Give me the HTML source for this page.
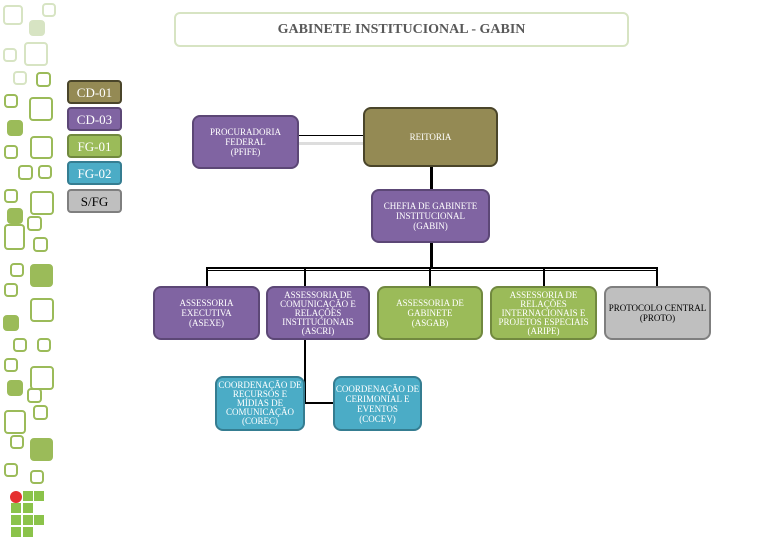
<!DOCTYPE html><html><head><style>
body{margin:0;width:765px;height:542px;background:#fff;position:relative;overflow:hidden;font-family:"Liberation Serif",serif}
.b{position:absolute;box-sizing:border-box;border-radius:8px;display:flex;align-items:center;justify-content:center;text-align:center;color:#fff;font-size:9px;line-height:10px}
.p{background:#8064a2;border:2px solid #5c4776}
.o{background:#948a54;border:2px solid #4a452a}
.g{background:#9bbb59;border:2px solid #71893f}
.t{background:#4bacc6;border:2px solid #357d91}
.s{background:#bfbfbf;border:2px solid #7f7f7f;color:#000}
.l{position:absolute;background:#000}
.q{position:absolute;box-sizing:border-box;border:2px solid #9bbb59;border-radius:4px}
.lt{border-color:#d7e4c3}.f{background:#9bbb59}.fl{background:#d7e4c3;border-color:#d7e4c3}
.lg{font-size:13px;line-height:13px;border-radius:4px}
</style></head><body>
<div class="q lt" style="left:3px;top:5px;width:20px;height:20px"></div>
<div class="q lt" style="left:42px;top:3px;width:14px;height:14px"></div>
<div class="q fl" style="left:29px;top:20px;width:16px;height:16px"></div>
<div class="q lt" style="left:3px;top:48px;width:14px;height:14px"></div>
<div class="q lt" style="left:24px;top:42px;width:24px;height:24px"></div>
<div class="q lt" style="left:13px;top:71px;width:14px;height:14px"></div>
<div class="q" style="left:36px;top:72px;width:15px;height:15px"></div>
<div class="q" style="left:4px;top:94px;width:14px;height:14px"></div>
<div class="q" style="left:29px;top:97px;width:24px;height:24px"></div>
<div class="q f" style="left:7px;top:120px;width:16px;height:16px"></div>
<div class="q" style="left:4px;top:145px;width:14px;height:14px"></div>
<div class="q" style="left:30px;top:136px;width:23px;height:23px"></div>
<div class="q" style="left:18px;top:165px;width:15px;height:15px"></div>
<div class="q" style="left:38px;top:165px;width:14px;height:14px"></div>
<div class="q" style="left:4px;top:189px;width:14px;height:14px"></div>
<div class="q" style="left:30px;top:191px;width:24px;height:24px"></div>
<div class="q f" style="left:7px;top:208px;width:16px;height:16px"></div>
<div class="q" style="left:27px;top:216px;width:15px;height:15px"></div>
<div class="q" style="left:4px;top:224px;width:21px;height:26px"></div>
<div class="q" style="left:33px;top:237px;width:15px;height:15px"></div>
<div class="q" style="left:10px;top:263px;width:14px;height:14px"></div>
<div class="q f" style="left:30px;top:264px;width:23px;height:23px"></div>
<div class="q" style="left:4px;top:283px;width:14px;height:14px"></div>
<div class="q" style="left:30px;top:298px;width:24px;height:24px"></div>
<div class="q f" style="left:3px;top:315px;width:16px;height:16px"></div>
<div class="q" style="left:13px;top:338px;width:14px;height:14px"></div>
<div class="q" style="left:37px;top:338px;width:14px;height:14px"></div>
<div class="q" style="left:4px;top:358px;width:14px;height:14px"></div>
<div class="q" style="left:30px;top:366px;width:24px;height:24px"></div>
<div class="q f" style="left:7px;top:380px;width:16px;height:16px"></div>
<div class="q" style="left:27px;top:388px;width:15px;height:15px"></div>
<div class="q" style="left:4px;top:410px;width:22px;height:24px"></div>
<div class="q" style="left:33px;top:405px;width:15px;height:15px"></div>
<div class="q" style="left:10px;top:435px;width:14px;height:14px"></div>
<div class="q f" style="left:30px;top:438px;width:23px;height:23px"></div>
<div class="q" style="left:4px;top:463px;width:14px;height:14px"></div>
<div class="q" style="left:30px;top:470px;width:14px;height:14px"></div>
<div style="position:absolute;left:10px;top:491px;width:12px;height:12px;border-radius:50%;background:#e53030"></div>
<div style="position:absolute;left:23px;top:491px;width:10px;height:10px;background:#8bc34a"></div>
<div style="position:absolute;left:34px;top:491px;width:10px;height:10px;background:#8bc34a"></div>
<div style="position:absolute;left:11px;top:503px;width:10px;height:10px;background:#8bc34a"></div>
<div style="position:absolute;left:23px;top:503px;width:10px;height:10px;background:#8bc34a"></div>
<div style="position:absolute;left:11px;top:515px;width:10px;height:10px;background:#8bc34a"></div>
<div style="position:absolute;left:23px;top:515px;width:10px;height:10px;background:#8bc34a"></div>
<div style="position:absolute;left:34px;top:515px;width:10px;height:10px;background:#8bc34a"></div>
<div style="position:absolute;left:11px;top:527px;width:10px;height:10px;background:#8bc34a"></div>
<div style="position:absolute;left:23px;top:527px;width:10px;height:10px;background:#8bc34a"></div>

<div style="position:absolute;left:174px;top:12px;width:455px;height:35px;box-sizing:border-box;border:2px solid #d7e4c3;border-radius:6px;display:flex;align-items:center;justify-content:center;font-weight:bold;font-size:14px;color:#595959">GABINETE INSTITUCIONAL - GABIN</div>

<div class="b o lg" style="left:67px;top:80px;width:55px;height:24px">CD-01</div>
<div class="b p lg" style="left:67px;top:107px;width:55px;height:24px">CD-03</div>
<div class="b g lg" style="left:67px;top:134px;width:55px;height:24px">FG-01</div>
<div class="b t lg" style="left:67px;top:161px;width:55px;height:24px">FG-02</div>
<div class="b s lg" style="left:67px;top:189px;width:55px;height:24px">S/FG</div>

<div class="l" style="left:298px;top:135px;width:66px;height:1px"></div>
<div style="position:absolute;left:298px;top:142px;width:66px;height:3px;background:#ddd"></div>
<div class="l" style="left:430px;top:166px;width:3px;height:24px"></div>
<div class="l" style="left:430px;top:242px;width:3px;height:27px"></div>
<div class="l" style="left:206px;top:267px;width:452px;height:2px"></div>
<div class="l" style="left:206px;top:270px;width:452px;height:1px"></div>
<div class="l" style="left:206px;top:267px;width:2px;height:20px"></div>
<div class="l" style="left:304px;top:267px;width:2px;height:20px"></div>
<div class="l" style="left:429px;top:267px;width:2px;height:20px"></div>
<div class="l" style="left:543px;top:267px;width:2px;height:20px"></div>
<div class="l" style="left:656px;top:267px;width:2px;height:20px"></div>
<div class="l" style="left:304px;top:339px;width:2px;height:65px"></div>
<div class="l" style="left:304px;top:402px;width:30px;height:2px"></div>

<div class="b p" style="left:192px;top:115px;width:107px;height:54px">PROCURADORIA<br>FEDERAL<br>(PFIFE)</div>
<div class="b o" style="left:363px;top:107px;width:135px;height:60px">REITORIA</div>
<div class="b p" style="left:371px;top:189px;width:119px;height:54px">CHEFIA DE GABINETE<br>INSTITUCIONAL<br>(GABIN)</div>
<div class="b p" style="left:153px;top:286px;width:107px;height:54px">ASSESSORIA<br>EXECUTIVA<br>(ASEXE)</div>
<div class="b p" style="left:266px;top:286px;width:104px;height:54px;line-height:9px">ASSESSORIA DE<br>COMUNICAÇÃO E<br>RELAÇÕES<br>INSTITUCIONAIS<br>(ASCRI)</div>
<div class="b g" style="left:377px;top:286px;width:106px;height:54px">ASSESSORIA DE<br>GABINETE<br>(ASGAB)</div>
<div class="b g" style="left:490px;top:286px;width:107px;height:54px;line-height:9px">ASSESSORIA DE<br>RELAÇÕES<br>INTERNACIONAIS E<br>PROJETOS ESPECIAIS<br>(ARIPE)</div>
<div class="b s" style="left:604px;top:286px;width:107px;height:54px">PROTOCOLO CENTRAL<br>(PROTO)</div>
<div class="b t" style="left:215px;top:376px;width:90px;height:55px;line-height:9px">COORDENAÇÃO DE<br>RECURSOS E<br>MÍDIAS DE<br>COMUNICAÇÃO<br>(COREC)</div>
<div class="b t" style="left:333px;top:376px;width:89px;height:55px">COORDENAÇÃO DE<br>CERIMONIAL E<br>EVENTOS<br>(COCEV)</div>
</body></html>
